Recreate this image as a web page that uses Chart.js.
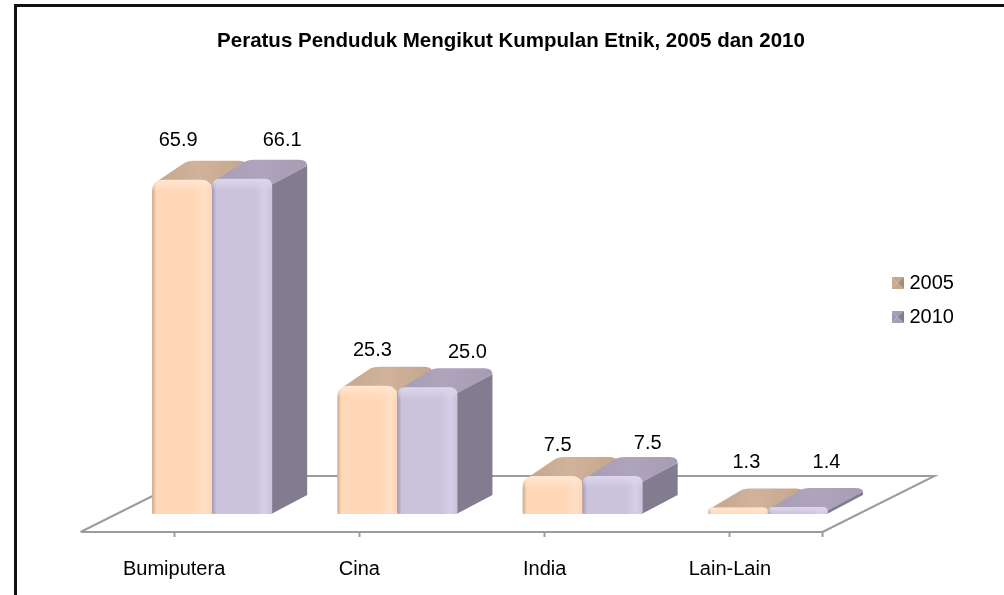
<!DOCTYPE html>
<html>
<head>
<meta charset="utf-8">
<style>html,body{margin:0;padding:0;background:#fff}canvas{display:block}</style>
<script src="https://cdn.jsdelivr.net/npm/chart.js@4"></script>
</head>
<body>
<canvas id="c" width="1004" height="595"></canvas>
<script>
const titleText = 'Peratus Penduduk Mengikut Kumpulan Etnik, 2005 dan 2010';
const categories = ['Bumiputera', 'Cina', 'India', 'Lain-Lain'];
const seriesNames = ['2005', '2010'];
const values2005 = [65.9, 25.3, 7.5, 1.3];
const values2010 = [66.1, 25.0, 7.5, 1.4];
const valueText2005 = ['65.9', '25.3', '7.5', '1.3'];
const valueText2010 = ['66.1', '25.0', '7.5', '1.4'];

const FONT = '"Liberation Sans", Arial, sans-serif';
const SHIFT_X = 38, SHIFT_Y = -18, DEPTH_X = 35, DEPTH_Y = 19;
const FLOOR_X = 112, FLOOR_Y = 56, LINE = '#9c9c9c';
const palettes = [
  {edge:'#c9aa8f', body:'#ffd8b7', hi:'#ffdfc6', end:'#fdd6b6', top:'#c3a68c', topHi:'#d0b39a', side:'#a58c76', bevel:'#ffe6d2', radius:12},
  {edge:'#a299b6', body:'#cbc2dc', hi:'#d6cfe6', end:'#cbc2dc', top:'#a69cb3', topHi:'#aea4bb', side:'#827c8e', bevel:'#dcd6ea', radius:8}
];
const labelNudgeX = [[-4, 5, 5, 8.5], [40, 40, 35, 28.5]];
const labelNudgeY = [[-39, -35, -30, -45], [-38, -35, -32, -44]];

function makeIcon(p) {
  const cv = document.createElement('canvas');
  cv.width = 12; cv.height = 12;
  const g = cv.getContext('2d');
  const tri = (a, b, col) => { g.fillStyle = col; g.beginPath(); g.moveTo(6, 6); g.lineTo(a[0], a[1]); g.lineTo(b[0], b[1]); g.closePath(); g.fill(); };
  tri([0,0],[12,0],p.top);
  tri([12,0],[12,12],p.side);
  tri([12,12],[0,12],p.top);
  tri([0,12],[0,0],p.edge);
  return cv;
}
const icons = palettes.map(makeIcon);

function drawBar(ctx, x0, x1, yt, yb, p) {
  const h = yb - yt;
  const r = Math.min(p.radius, h * 0.75);
  const b = Math.min(6, h * 0.5);
  // side
  ctx.fillStyle = p.side;
  ctx.beginPath();
  ctx.moveTo(x1 - 1, yb);
  ctx.lineTo(x1 + DEPTH_X, yb - DEPTH_Y);
  ctx.lineTo(x1 + DEPTH_X, yt - DEPTH_Y + b);
  ctx.lineTo(x1 - 1, yt + b);
  ctx.closePath();
  ctx.fill();
  // top
  let g = ctx.createLinearGradient(x0, 0, x1 + DEPTH_X, 0);
  g.addColorStop(0, p.top); g.addColorStop(0.5, p.topHi); g.addColorStop(1, p.top);
  ctx.fillStyle = g;
  ctx.beginPath();
  ctx.moveTo(x0 + r * 0.5, yt + 1);
  ctx.lineTo(x0 + DEPTH_X - 4, yt - DEPTH_Y + 3);
  ctx.quadraticCurveTo(x0 + DEPTH_X, yt - DEPTH_Y, x0 + DEPTH_X + 7, yt - DEPTH_Y);
  ctx.lineTo(x1 + DEPTH_X - 8, yt - DEPTH_Y);
  ctx.quadraticCurveTo(x1 + DEPTH_X, yt - DEPTH_Y, x1 + DEPTH_X, yt - DEPTH_Y + b);
  ctx.lineTo(x1, yt + b);
  ctx.lineTo(x1 - r * 0.5, yt + 1);
  ctx.closePath();
  ctx.fill();
  // front
  g = ctx.createLinearGradient(x0, 0, x1, 0);
  g.addColorStop(0, p.edge); g.addColorStop(0.07, p.body); g.addColorStop(0.72, p.body);
  g.addColorStop(0.88, p.hi); g.addColorStop(1, p.end);
  const path = () => {
    ctx.beginPath();
    ctx.moveTo(x0 + 1, yb);
    ctx.lineTo(x0, yb - 1);
    ctx.lineTo(x0, yt + r);
    ctx.quadraticCurveTo(x0, yt, x0 + r, yt);
    ctx.lineTo(x1 - r, yt);
    ctx.quadraticCurveTo(x1, yt, x1, yt + r);
    ctx.lineTo(x1, yb - 1);
    ctx.lineTo(x1 - 1, yb);
    ctx.closePath();
  };
  path();
  ctx.fillStyle = g;
  ctx.fill();
  // bevel on top of front face
  const bh = Math.min(12, h);
  const bev = ctx.createLinearGradient(0, yt, 0, yt + bh);
  bev.addColorStop(0, p.bevel + 'ff'); bev.addColorStop(0.4, p.bevel + 'aa'); bev.addColorStop(1, p.bevel + '00');
  ctx.save();
  path();
  ctx.clip();
  ctx.fillStyle = bev;
  ctx.fillRect(x0, yt, x1 - x0, bh);
  ctx.restore();
}

const scene3d = {
  id: 'scene3d',
  afterLayout(chart) {
    chart.titleBlock.left += 17.75; chart.titleBlock.right += 17.75;
    const lg = chart.legend;
    lg.left = 881.5; lg.right = 1004;
    lg.top += 2.5; lg.bottom += 2.5;
  },
  beforeDraw(chart) {
    const ctx = chart.ctx;
    ctx.save();
    ctx.fillStyle = '#fff';
    ctx.fillRect(0, 0, chart.width, chart.height);
    ctx.fillStyle = '#111';
    ctx.fillRect(14, 4, chart.width - 14, 3);
    ctx.fillRect(14, 4, 3, chart.height - 4);
    ctx.restore();
  },
  beforeDatasetsDraw(chart) {
    const ctx = chart.ctx, a = chart.chartArea;
    ctx.save();
    // floor
    ctx.strokeStyle = LINE; ctx.lineWidth = 2; ctx.lineJoin = 'miter';
    ctx.beginPath();
    ctx.moveTo(a.left - 1, a.bottom);
    ctx.lineTo(a.left - 1 + FLOOR_X, a.bottom - FLOOR_Y);
    ctx.lineTo(a.right + FLOOR_X, a.bottom - FLOOR_Y);
    ctx.lineTo(a.right, a.bottom);
    ctx.stroke();
    ctx.fillStyle = LINE;
    ctx.fillRect(a.right - 1, a.bottom, 2, 5);
    // bars
    categories.forEach((_, j) => {
      chart.data.datasets.forEach((ds, i) => {
        const el = chart.getDatasetMeta(i).data[j];
        const x0 = el.x - el.width / 2 + SHIFT_X, x1 = el.x + el.width / 2 + SHIFT_X;
        drawBar(ctx, x0, x1, el.y + SHIFT_Y, el.base + SHIFT_Y, palettes[i]);
      });
    });
    // value labels
    ctx.fillStyle = '#000';
    ctx.font = '20px ' + FONT;
    ctx.textAlign = 'center';
    ctx.textBaseline = 'middle';
    const texts = [valueText2005, valueText2010];
    categories.forEach((_, j) => {
      chart.data.datasets.forEach((ds, i) => {
        const el = chart.getDatasetMeta(i).data[j];
        ctx.fillText(texts[i][j], el.x + SHIFT_X + labelNudgeX[i][j], el.y + SHIFT_Y + labelNudgeY[i][j]);
      });
    });
    ctx.restore();
    return false;
  }
};

new Chart(document.getElementById('c'), {
  type: 'bar',
  data: {
    labels: categories,
    datasets: [
      {label: seriesNames[0], data: values2005, backgroundColor: palettes[0].body, barPercentage: 1, categoryPercentage: 120 / 185.1},
      {label: seriesNames[1], data: values2010, backgroundColor: palettes[1].body, barPercentage: 1, categoryPercentage: 120 / 185.1}
    ]
  },
  options: {
    responsive: false,
    animation: false,
    layout: {padding: {left: 81.5, right: 99, top: 0, bottom: 0}},
    plugins: {
      tooltip: {enabled: false},
      title: {
        display: true, text: titleText, color: '#000',
        font: {family: FONT, size: 20.5, weight: 'bold'},
        padding: {top: 28.7, bottom: 123.7}
      },
      legend: {
        display: true, position: 'right',
        labels: {
          usePointStyle: true, pointStyleWidth: 4, boxHeight: 12, padding: 14,
          color: '#000', font: {family: FONT, size: 20},
          generateLabels: c => c.data.datasets.map((d, i) => ({
            text: d.label, pointStyle: icons[i], fillStyle: d.backgroundColor,
            strokeStyle: d.backgroundColor, lineWidth: 0, datasetIndex: i, hidden: false, fontColor: '#000'
          }))
        }
      }
    },
    scales: {
      x: {
        afterFit(s) { s.height = 63; },
        border: {display: true, color: LINE, width: 2},
        grid: {display: true, offset: false, drawOnChartArea: false, drawTicks: true, tickLength: 5, tickWidth: 2, tickColor: LINE, color: LINE},
        ticks: {color: '#000', font: {family: FONT, size: 20}, padding: 20, maxRotation: 0, autoSkip: false}
      },
      y: {display: false, min: 0, max: 70}
    }
  },
  plugins: [scene3d]
});
</script>
</body>
</html>
